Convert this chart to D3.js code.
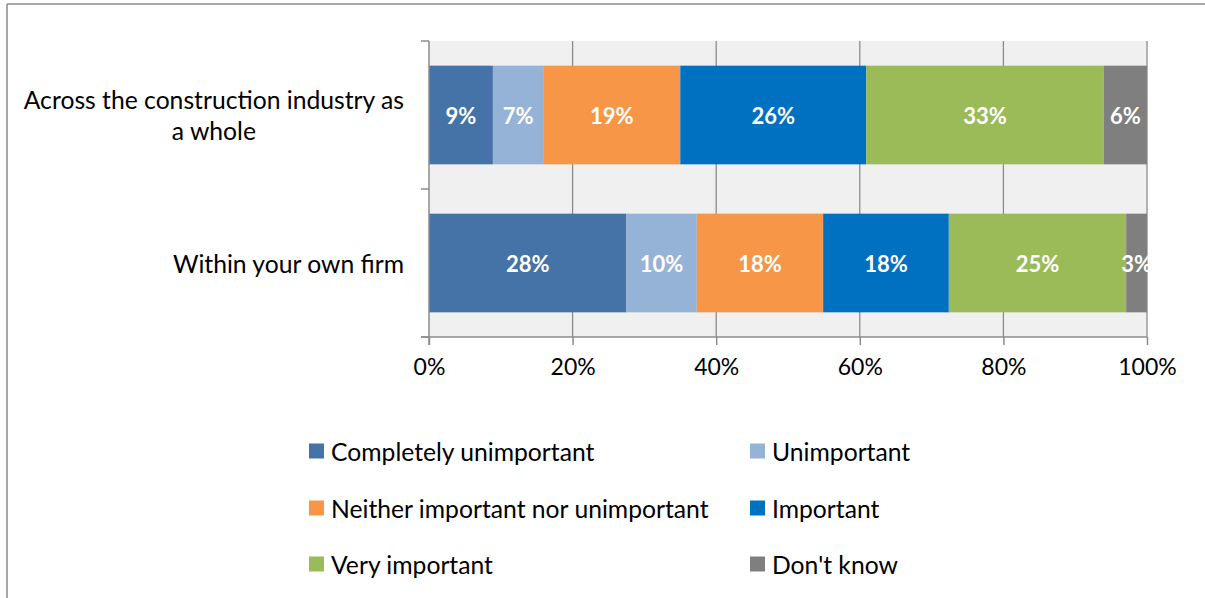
<!DOCTYPE html>
<html>
<head>
<meta charset="utf-8">
<script src="https://cdn.jsdelivr.net/npm/d3@7"></script>
<style>
  html, body { margin: 0; padding: 0; background: #fff; }
  svg { display: block; }
  text { font-family: Lato, "Open Sans", sans-serif; }
</style>
</head>
<body>
<svg id="chart" width="1205" height="598"></svg>
<script>
const categories = [
  ["Across the construction industry as", "a whole"],
  ["Within your own firm"]
];
const series = ["Completely unimportant", "Unimportant", "Neither important nor unimportant", "Important", "Very important", "Don't know"];
const colors = ["#4572A7", "#95B3D7", "#F79646", "#0070C0", "#9BBB59", "#7F7F7F"];
const completelyUnimportant = [8.9, 27.5];
const unimportant = [7.0, 9.8];
const neither = [19.1, 17.6];
const important = [25.9, 17.5];
const veryImportant = [33.1, 24.7];
const dontKnow = [6.0, 2.9];
const xTicks = [0, 20, 40, 60, 80, 100];

const seriesValues = [completelyUnimportant, unimportant, neither, important, veryImportant, dontKnow];

const svg = d3.select("#chart");

// outer frame (left and top lines)
svg.append("line").attr("x1", 7).attr("y1", 4).attr("x2", 1205).attr("y2", 4)
  .attr("stroke", "#8a8a8a").attr("stroke-width", 1.5);
svg.append("line").attr("x1", 7).attr("y1", 4).attr("x2", 7).attr("y2", 598)
  .attr("stroke", "#8a8a8a").attr("stroke-width", 1.5);

const pLeft = 429, pRight = 1147, pTop = 41, pBottom = 337;
const x = d3.scaleLinear().domain([0, 100]).range([pLeft, pRight]);
const y = d3.scaleBand().domain(d3.range(categories.length)).range([pTop, pBottom])
  .paddingInner(1/3).paddingOuter(1/6);
const yOuter = d3.scaleBand().domain(d3.range(categories.length)).range([pTop, pBottom]);

// plot background
svg.append("rect").attr("x", pLeft).attr("y", pTop).attr("width", pRight - pLeft).attr("height", pBottom - pTop)
  .attr("fill", "#F0F0F0");

// gridlines
svg.append("g").selectAll("line").data(xTicks.slice(1)).join("line")
  .attr("x1", d => x(d)).attr("x2", d => x(d))
  .attr("y1", pTop).attr("y2", pBottom)
  .attr("stroke", "#8c8c8c").attr("stroke-width", 1.3);

// stacked bars
const stackData = categories.map((c, i) => {
  const o = { i };
  series.forEach((s, k) => o[s] = seriesValues[k][i]);
  return o;
});
const stack = d3.stack().keys(series)(stackData);

const layers = svg.append("g").selectAll("g").data(stack).join("g")
  .attr("fill", (d, k) => colors[k]);
layers.selectAll("rect").data(d => d).join("rect")
  .attr("x", d => x(d[0]))
  .attr("y", d => y(d.data.i))
  .attr("width", d => x(d[1]) - x(d[0]))
  .attr("height", y.bandwidth());

// data labels
const labels = svg.append("g");
stack.forEach((layer) => {
  layer.forEach(d => {
    labels.append("text")
      .attr("x", (x(d[0]) + x(d[1])) / 2)
      .attr("y", y(d.data.i) + y.bandwidth() / 2)
      .attr("text-anchor", "middle")
      .attr("dominant-baseline", "central")
      .attr("fill", "#fff")
      .attr("font-weight", "bold")
      .attr("font-size", 22)
      .text(Math.round(d[1] - d[0]) + "%");
  });
});

// y axis
const yAxis = svg.append("g");
yAxis.append("line").attr("x1", pLeft).attr("x2", pLeft).attr("y1", pTop).attr("y2", pBottom + 8)
  .attr("stroke", "#8c8c8c").attr("stroke-width", 1.5);
const yTickPos = [pTop].concat(d3.range(categories.length).map(i => yOuter(i) + yOuter.bandwidth()));
yAxis.selectAll("line.t").data(yTickPos).join("line").attr("class", "t")
  .attr("x1", pLeft - 8).attr("x2", pLeft).attr("y1", d => d).attr("y2", d => d)
  .attr("stroke", "#8c8c8c").attr("stroke-width", 1.5);

// x axis
const xAxis = svg.append("g").attr("transform", `translate(0,${pBottom})`)
  .call(d3.axisBottom(x).tickValues(xTicks).tickFormat(d => d + "%").tickSize(8).tickPadding(14));
xAxis.select(".domain").attr("d", `M${pLeft - 8},0H${pRight}`).attr("stroke", "#8c8c8c").attr("stroke-width", 1.5);
xAxis.selectAll(".tick line").attr("stroke", "#8c8c8c").attr("stroke-width", 1.5);
xAxis.selectAll(".tick text").attr("font-size", 23).attr("fill", "#000")
  .attr("font-family", "Lato, 'Open Sans', sans-serif");

// category labels
categories.forEach((lines, i) => {
  const cy = yOuter(i) + yOuter.bandwidth() / 2;
  const lh = 31;
  const t = svg.append("text").attr("text-anchor", "middle").attr("font-size", 24.7).attr("fill", "#000");
  lines.forEach((ln, j) => {
    t.append("tspan")
      .attr("x", 0)
      .attr("y", cy + (j - (lines.length - 1) / 2) * lh)
      .attr("dominant-baseline", "central")
      .text(ln);
  });
  const w = t.node().getBBox().width;
  t.selectAll("tspan").attr("x", 404 - w / 2);
});

// legend
const legendPos = [[309, 451], [750, 451], [309, 508], [750, 508], [309, 564], [750, 564]];
const legend = svg.append("g").selectAll("g").data(series).join("g")
  .attr("transform", (d, k) => `translate(${legendPos[k][0]},${legendPos[k][1]})`);
legend.append("rect").attr("x", 0).attr("y", -7.5).attr("width", 15).attr("height", 15)
  .attr("fill", (d, k) => colors[k]);
legend.append("text").attr("x", 22).attr("y", 0).attr("dominant-baseline", "central")
  .attr("font-size", 24.7).attr("fill", "#000").text(d => d);
</script>
</body>
</html>
